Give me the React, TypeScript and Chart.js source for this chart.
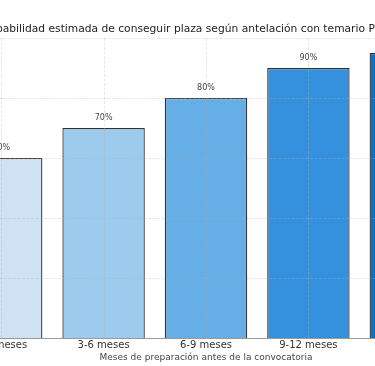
import React, { useEffect, useRef } from "react";
import { Chart, registerables } from "chart.js";

Chart.register(...registerables);

const categories = ["0-3 meses", "3-6 meses", "6-9 meses", "9-12 meses", "+12 meses"];
const probabilities = [60, 70, 80, 90, 95];
const barColors = ["#cfe2f4", "#9dcbee", "#66aee6", "#3591dd", "#0a72c8"];
const yTicks = [20, 40, 60, 80, 100];
const titleText = "Probabilidad estimada de conseguir plaza según antelación con temario Premium";
const xAxisTitle = "Meses de preparación antes de la convocatoria";

const FONT = "'DejaVu Sans', sans-serif";

const overlayPlugin = {
  id: "overlay",
  afterDatasetsDraw(chart: any) {
    const { ctx, chartArea: a, scales } = chart;
    const x = scales.x;
    const y = scales.y;
    ctx.save();
    ctx.beginPath();
    ctx.rect(a.left, a.top - 1, a.right - a.left, a.bottom - a.top + 1);
    ctx.clip();
    ctx.strokeStyle = "rgba(176,176,176,0.4)";
    ctx.lineWidth = 0.8;
    ctx.setLineDash([3, 1.5]);
    yTicks.forEach((v) => {
      const py = Math.round(y.getPixelForValue(v)) + 0.5;
      ctx.beginPath();
      ctx.moveTo(a.left, py);
      ctx.lineTo(a.right, py);
      ctx.stroke();
    });
    categories.forEach((_, i) => {
      const px = Math.round(x.getPixelForValue(i)) + 0.5;
      ctx.beginPath();
      ctx.moveTo(px, a.top);
      ctx.lineTo(px, a.bottom);
      ctx.stroke();
    });
    ctx.restore();

    ctx.save();
    ctx.font = `8px ${FONT}`;
    ctx.fillStyle = "#444";
    ctx.textAlign = "center";
    ctx.textBaseline = "alphabetic";
    const meta = chart.getDatasetMeta(0);
    meta.data.forEach((bar: any, i: number) => {
      ctx.fillText(`${probabilities[i]}%`, bar.x, bar.y - 8.5);
    });
    ctx.restore();

    ctx.save();
    ctx.font = `10.7px ${FONT}`;
    ctx.fillStyle = "#222";
    ctx.textAlign = "left";
    ctx.textBaseline = "alphabetic";
    ctx.fillText(titleText, a.left + 29, 32);
    ctx.restore();
  },
};

export default function App() {
  const ref = useRef<HTMLCanvasElement>(null);
  useEffect(() => {
    if (!ref.current) return;
    const chart = new Chart(ref.current, {
      type: "bar",
      data: {
        labels: categories,
        datasets: [
          {
            data: probabilities,
            backgroundColor: barColors,
            borderColor: "#333",
            borderWidth: 1.3,
            categoryPercentage: 1,
            barPercentage: 0.805,
          },
        ],
      },
      options: {
        animation: false,
        responsive: false,
        devicePixelRatio: 1,
        layout: { padding: { top: 38, left: 10, right: 10, bottom: 3.5 } },
        plugins: { legend: { display: false }, title: { display: false }, tooltip: { enabled: false } },
        scales: {
          x: {
            grid: { display: false, drawTicks: false },
            border: { display: true, color: "#999", width: 1 },
            ticks: { color: "#333", font: { family: FONT, size: 10, lineHeight: 1 }, padding: 2 },
            title: {
              display: true,
              text: xAxisTitle,
              color: "#444",
              font: { family: FONT, size: 9, lineHeight: 1 },
              padding: { top: 1.5, bottom: 0 },
            },
          },
          y: { display: false, min: 0, max: 100 },
        },
      },
      plugins: [overlayPlugin],
    });
    return () => chart.destroy();
  }, []);
  return (
    <div style={{ position: "fixed", left: 0, top: 0, width: 375, height: 366, overflow: "hidden", background: "#fff" }}>
      <canvas ref={ref} width={532} height={366} style={{ position: "absolute", left: -60, top: 0, width: 532, height: 366 }} />
    </div>
  );
}
